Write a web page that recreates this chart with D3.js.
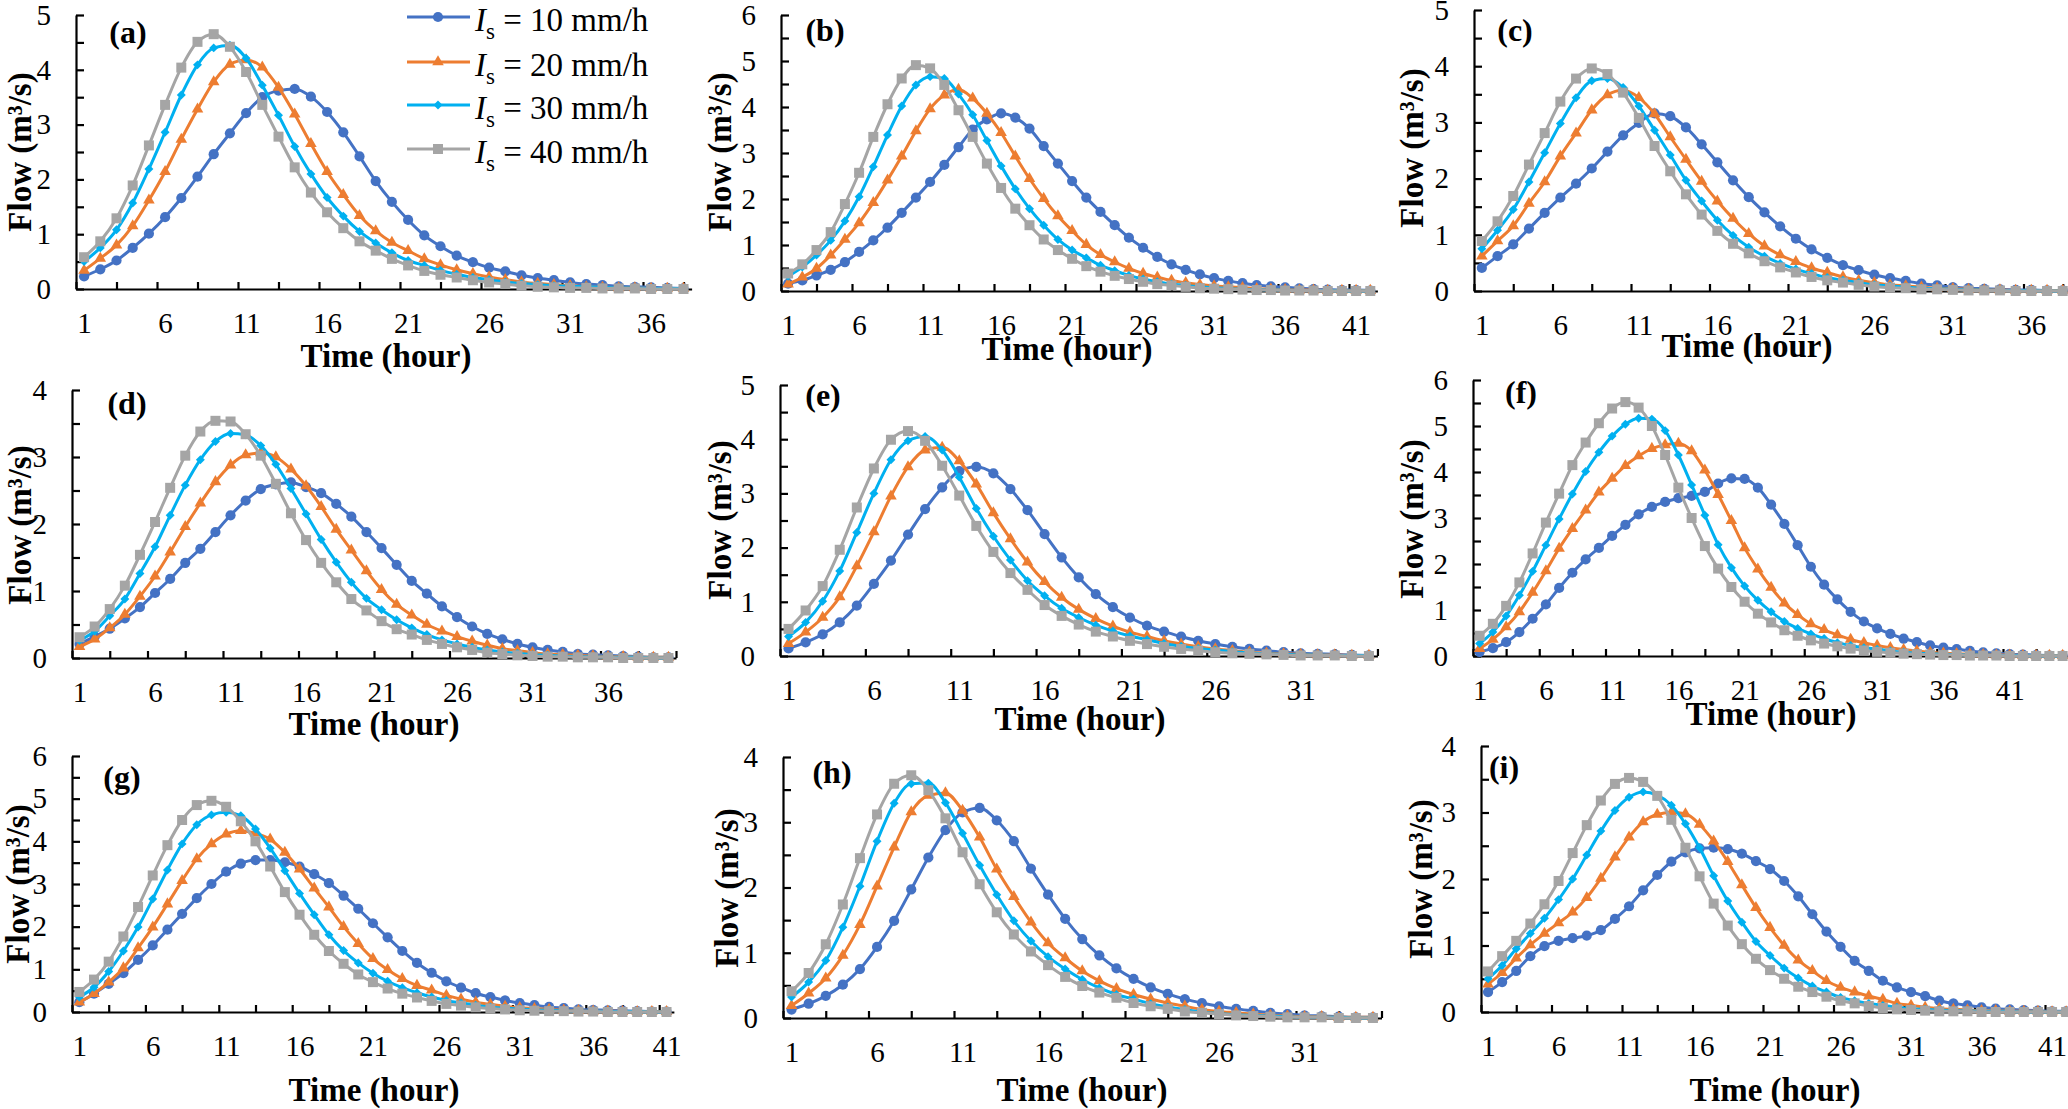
<!DOCTYPE html>
<html lang="en">
<head>
<meta charset="utf-8">
<title>Flow hydrographs</title>
<script src="https://cdn.jsdelivr.net/npm/d3@7"></script>
<style>
  body { margin: 0; background: #fff; }
  #chart text { font-family: "Liberation Serif", "Times New Roman", serif; fill: #000; }
</style>
</head>
<body>
<svg id="chart" width="2068" height="1109"></svg>
<script>
"use strict"

// flow (m3/s) per hour, one array per rainfall intensity
var a_10 = [0.23,0.36,0.52,0.75,1.01,1.31,1.66,2.05,2.46,2.84,3.21,3.50,3.62,3.65,3.51,3.23,2.86,2.42,1.97,1.59,1.26,0.98,0.78,0.61,0.49,0.39,0.32,0.25,0.20,0.16,0.12,0.09,0.07,0.05,0.04,0.03,0.02,0.01];
var a_20 = [0.34,0.56,0.80,1.15,1.62,2.14,2.73,3.28,3.78,4.10,4.18,4.05,3.68,3.19,2.65,2.14,1.72,1.34,1.06,0.85,0.70,0.55,0.44,0.35,0.28,0.22,0.17,0.13,0.10,0.08,0.06,0.04,0.03,0.02,0.02,0.01,0.01,0.01];
var a_30 = [0.50,0.75,1.08,1.57,2.19,2.86,3.54,4.09,4.40,4.45,4.21,3.72,3.17,2.60,2.10,1.67,1.33,1.05,0.84,0.66,0.52,0.43,0.34,0.27,0.21,0.17,0.13,0.10,0.08,0.06,0.05,0.04,0.03,0.02,0.02,0.01,0.01,0.01];
var a_40 = [0.58,0.87,1.29,1.89,2.62,3.36,4.04,4.51,4.65,4.42,3.96,3.36,2.78,2.22,1.76,1.40,1.11,0.87,0.70,0.55,0.43,0.33,0.26,0.21,0.16,0.12,0.09,0.06,0.04,0.03,0.02,0.02,0.01,0.01,0.01,0,0,0];

var b_10 = [0.16,0.23,0.34,0.46,0.63,0.85,1.10,1.38,1.70,2.03,2.37,2.74,3.13,3.51,3.73,3.86,3.77,3.53,3.15,2.77,2.39,2.03,1.72,1.43,1.16,0.94,0.74,0.58,0.46,0.36,0.28,0.22,0.17,0.13,0.10,0.08,0.06,0.04,0.03,0.02,0.02,0.01];
var b_20 = [0.15,0.30,0.49,0.78,1.12,1.48,1.92,2.41,2.93,3.48,3.96,4.26,4.38,4.19,3.86,3.44,2.93,2.44,2.01,1.63,1.31,1.01,0.79,0.63,0.49,0.38,0.30,0.23,0.18,0.14,0.11,0.09,0.07,0.05,0.04,0.03,0.02,0.02,0.01,0.01,0.01,0.01];
var b_30 = [0.32,0.52,0.78,1.10,1.52,2.05,2.70,3.39,4.02,4.48,4.66,4.62,4.28,3.83,3.27,2.72,2.22,1.79,1.43,1.12,0.89,0.72,0.56,0.44,0.34,0.26,0.20,0.15,0.12,0.09,0.07,0.05,0.04,0.03,0.02,0.02,0.01,0.01,0.01,0,0,0];
var b_40 = [0.38,0.58,0.89,1.28,1.89,2.57,3.35,4.06,4.62,4.91,4.84,4.48,3.93,3.35,2.77,2.24,1.79,1.43,1.12,0.89,0.70,0.54,0.42,0.33,0.26,0.20,0.15,0.12,0.09,0.06,0.05,0.04,0.03,0.02,0.02,0.01,0.01,0.01,0,0,0,0];

var c_10 = [0.41,0.62,0.83,1.11,1.39,1.66,1.91,2.18,2.48,2.77,2.99,3.16,3.11,2.91,2.61,2.29,1.97,1.67,1.40,1.15,0.93,0.74,0.59,0.46,0.37,0.29,0.23,0.18,0.13,0.10,0.07,0.05,0.04,0.03,0.02,0.02,0.01,0.01];
var c_20 = [0.62,0.89,1.16,1.56,1.94,2.40,2.81,3.22,3.49,3.57,3.44,3.15,2.74,2.34,1.95,1.60,1.29,1.02,0.80,0.64,0.52,0.41,0.33,0.25,0.19,0.15,0.11,0.09,0.07,0.05,0.04,0.03,0.02,0.02,0.01,0.01,0.01,0.01];
var c_30 = [0.75,1.08,1.45,1.94,2.46,2.98,3.44,3.74,3.78,3.62,3.29,2.86,2.42,1.97,1.60,1.26,0.99,0.78,0.62,0.49,0.39,0.31,0.24,0.19,0.15,0.11,0.09,0.07,0.05,0.04,0.03,0.02,0.02,0.01,0.01,0.01,0,0];
var c_40 = [0.89,1.24,1.69,2.25,2.81,3.37,3.78,3.96,3.86,3.53,3.08,2.58,2.13,1.72,1.36,1.07,0.84,0.67,0.53,0.42,0.33,0.25,0.19,0.15,0.11,0.08,0.06,0.05,0.03,0.03,0.02,0.01,0.01,0.01,0,0,0,0];

var d_10 = [0.21,0.32,0.44,0.59,0.76,0.97,1.18,1.42,1.63,1.88,2.13,2.35,2.52,2.59,2.62,2.55,2.46,2.30,2.11,1.88,1.64,1.39,1.15,0.96,0.77,0.61,0.47,0.36,0.28,0.21,0.16,0.12,0.09,0.06,0.05,0.04,0.03,0.02,0.01,0.01];
var d_20 = [0.17,0.28,0.45,0.65,0.92,1.22,1.58,1.96,2.31,2.63,2.88,3.03,3.06,3.00,2.82,2.57,2.26,1.92,1.61,1.30,1.02,0.80,0.64,0.50,0.40,0.32,0.25,0.19,0.14,0.11,0.08,0.06,0.05,0.04,0.03,0.02,0.02,0.01,0.01,0.01];
var d_30 = [0.26,0.40,0.63,0.88,1.26,1.66,2.13,2.58,2.96,3.23,3.35,3.33,3.17,2.89,2.53,2.15,1.77,1.43,1.13,0.89,0.72,0.57,0.45,0.35,0.27,0.21,0.16,0.12,0.09,0.07,0.05,0.04,0.03,0.02,0.02,0.01,0.01,0.01,0,0];
var d_40 = [0.31,0.47,0.73,1.08,1.54,2.03,2.54,3.02,3.38,3.54,3.53,3.34,3.02,2.60,2.16,1.76,1.42,1.13,0.88,0.71,0.55,0.43,0.35,0.27,0.21,0.16,0.12,0.08,0.06,0.04,0.03,0.02,0.02,0.01,0.01,0.01,0,0,0,0];

var e_10 = [0.14,0.25,0.40,0.62,0.93,1.33,1.76,2.24,2.71,3.11,3.41,3.49,3.37,3.08,2.69,2.25,1.82,1.45,1.14,0.90,0.71,0.56,0.45,0.36,0.28,0.22,0.17,0.13,0.10,0.07,0.05,0.04,0.03,0.02,0.01];
var e_20 = [0.23,0.44,0.71,1.09,1.66,2.29,2.95,3.49,3.80,3.85,3.60,3.17,2.64,2.16,1.73,1.37,1.08,0.86,0.69,0.55,0.44,0.36,0.28,0.22,0.17,0.13,0.10,0.07,0.05,0.04,0.03,0.02,0.02,0.01,0.01];
var e_30 = [0.36,0.62,1.01,1.57,2.28,3.00,3.62,3.97,4.05,3.80,3.30,2.72,2.21,1.77,1.39,1.11,0.88,0.71,0.57,0.46,0.37,0.30,0.23,0.18,0.14,0.11,0.08,0.06,0.04,0.03,0.02,0.02,0.01,0.01,0.01];
var e_40 = [0.50,0.84,1.29,1.96,2.74,3.46,3.99,4.15,3.97,3.51,2.96,2.40,1.92,1.53,1.22,0.94,0.74,0.58,0.45,0.36,0.28,0.22,0.17,0.13,0.10,0.07,0.05,0.04,0.03,0.02,0.01,0.01,0.01,0,0];

var f_10 = [0.09,0.17,0.30,0.52,0.81,1.12,1.48,1.81,2.10,2.35,2.61,2.85,3.08,3.24,3.35,3.43,3.48,3.57,3.75,3.86,3.85,3.66,3.29,2.87,2.41,1.94,1.55,1.23,0.96,0.75,0.60,0.48,0.38,0.30,0.23,0.18,0.15,0.11,0.08,0.06,0.04,0.03,0.02,0.01,0.01];
var f_20 = [0.16,0.36,0.63,0.96,1.38,1.85,2.34,2.77,3.17,3.56,3.86,4.14,4.35,4.51,4.59,4.62,4.46,4.04,3.51,2.94,2.35,1.89,1.49,1.15,0.90,0.70,0.57,0.46,0.36,0.29,0.23,0.18,0.14,0.11,0.08,0.06,0.05,0.04,0.03,0.02,0.02,0.01,0.01,0.01,0.01];
var f_30 = [0.27,0.52,0.87,1.32,1.84,2.41,2.98,3.52,4.01,4.43,4.78,5.04,5.17,5.15,4.90,4.37,3.72,3.06,2.42,1.92,1.52,1.21,0.96,0.75,0.60,0.48,0.38,0.29,0.23,0.18,0.15,0.11,0.08,0.06,0.05,0.04,0.03,0.02,0.02,0.01,0.01,0.01,0,0,0];
var f_40 = [0.44,0.70,1.09,1.60,2.23,2.90,3.53,4.15,4.64,5.06,5.38,5.52,5.40,5.00,4.37,3.66,3.00,2.39,1.90,1.50,1.18,0.92,0.73,0.56,0.44,0.34,0.27,0.21,0.16,0.12,0.09,0.07,0.05,0.04,0.03,0.02,0.02,0.01,0.01,0.01,0,0,0,0,0];

var g_10 = [0.23,0.43,0.66,0.91,1.22,1.56,1.93,2.30,2.67,3.00,3.29,3.48,3.56,3.56,3.51,3.41,3.23,3.02,2.73,2.42,2.08,1.75,1.43,1.15,0.92,0.72,0.57,0.44,0.35,0.27,0.21,0.16,0.12,0.09,0.06,0.05,0.04,0.03,0.02,0.01,0.01];
var g_20 = [0.23,0.43,0.70,1.03,1.50,1.99,2.53,3.08,3.59,3.94,4.17,4.25,4.19,4.05,3.74,3.35,2.90,2.46,2.00,1.60,1.25,0.99,0.78,0.62,0.51,0.39,0.30,0.23,0.18,0.13,0.10,0.08,0.06,0.04,0.03,0.02,0.02,0.01,0.01,0.01,0.01];
var g_30 = [0.35,0.58,0.95,1.43,1.99,2.65,3.33,3.94,4.39,4.62,4.68,4.60,4.29,3.84,3.31,2.78,2.28,1.81,1.44,1.15,0.91,0.72,0.57,0.45,0.35,0.27,0.21,0.16,0.12,0.09,0.07,0.05,0.04,0.03,0.02,0.02,0.01,0.01,0.01,0,0];
var g_40 = [0.47,0.76,1.18,1.77,2.46,3.20,3.91,4.50,4.85,4.95,4.81,4.47,4.00,3.41,2.81,2.28,1.81,1.43,1.13,0.88,0.70,0.55,0.43,0.34,0.26,0.19,0.15,0.11,0.08,0.06,0.04,0.03,0.02,0.02,0.01,0.01,0,0,0,0,0];

var h_10 = [0.13,0.22,0.34,0.51,0.75,1.09,1.49,1.97,2.46,2.88,3.15,3.22,3.03,2.71,2.29,1.89,1.52,1.21,0.96,0.76,0.60,0.47,0.37,0.29,0.23,0.18,0.14,0.11,0.08,0.06,0.04,0.03,0.02,0.01,0.01];
var h_20 = [0.19,0.38,0.61,0.96,1.43,2.02,2.62,3.16,3.41,3.45,3.18,2.77,2.28,1.86,1.47,1.15,0.92,0.72,0.57,0.45,0.36,0.29,0.23,0.18,0.13,0.10,0.08,0.06,0.04,0.03,0.02,0.02,0.01,0.01,0.01];
var h_30 = [0.32,0.55,0.88,1.39,2.02,2.71,3.29,3.59,3.60,3.30,2.83,2.34,1.89,1.49,1.18,0.94,0.75,0.59,0.46,0.36,0.29,0.22,0.17,0.13,0.09,0.07,0.05,0.04,0.03,0.02,0.01,0.01,0.01,0,0];
var h_40 = [0.41,0.69,1.13,1.74,2.45,3.12,3.59,3.72,3.49,3.06,2.54,2.05,1.62,1.28,1.02,0.81,0.63,0.49,0.39,0.31,0.23,0.18,0.14,0.10,0.08,0.06,0.04,0.03,0.02,0.01,0.01,0.01,0,0,0];

var i_10 = [0.30,0.45,0.62,0.84,0.99,1.07,1.11,1.15,1.23,1.40,1.59,1.83,2.06,2.26,2.40,2.46,2.47,2.45,2.38,2.27,2.15,1.97,1.74,1.47,1.21,0.98,0.77,0.62,0.47,0.37,0.30,0.24,0.17,0.13,0.10,0.07,0.05,0.04,0.03,0.02,0.01,0.01];
var i_20 = [0.42,0.59,0.81,1.01,1.18,1.34,1.50,1.72,2.01,2.33,2.63,2.86,2.97,3.00,2.98,2.82,2.57,2.26,1.91,1.57,1.27,1.00,0.78,0.62,0.47,0.37,0.30,0.24,0.19,0.13,0.10,0.07,0.05,0.04,0.03,0.02,0.02,0.01,0.01,0.01,0,0];
var i_30 = [0.50,0.70,0.95,1.18,1.41,1.69,2.00,2.36,2.72,3.03,3.23,3.31,3.26,3.11,2.83,2.47,2.05,1.67,1.35,1.06,0.85,0.66,0.51,0.39,0.30,0.22,0.17,0.13,0.10,0.07,0.05,0.04,0.03,0.02,0.02,0.01,0.01,0.01,0,0,0,0];
var i_40 = [0.61,0.84,1.07,1.33,1.62,1.97,2.39,2.81,3.18,3.43,3.52,3.46,3.25,2.89,2.47,2.04,1.63,1.30,1.02,0.80,0.63,0.50,0.38,0.30,0.23,0.17,0.13,0.09,0.06,0.04,0.03,0.02,0.01,0.01,0.01,0,0,0,0,0,0,0];

var intensities = [10, 20, 30, 40];            // mm/h
var panelTags   = ['(a)','(b)','(c)','(d)','(e)','(f)','(g)','(h)','(i)'];
var yMaxes      = [5, 6, 5, 4, 5, 6, 6, 4, 4];
var hourLabels  = [1, 6, 11, 16, 21, 26, 31, 36, 41];

var panelSeries = [
  [a_10, a_20, a_30, a_40], [b_10, b_20, b_30, b_40], [c_10, c_20, c_30, c_40],
  [d_10, d_20, d_30, d_40], [e_10, e_20, e_30, e_40], [f_10, f_20, f_30, f_40],
  [g_10, g_20, g_30, g_40], [h_10, h_20, h_30, h_40], [i_10, i_20, i_30, i_40]
];

// where each little chart sits in the picture (pixels)
// left = y axis, step = px per hour, bottom = zero line, top = y max
var boxes = [
  {left:76,   step:16.2,  bottom:289,  top:15,  flowX:19,   flowY:152, tagX:128,  tagY:32,  timeX:386,  timeY:355},
  {left:781,  step:14.2,  bottom:291,  top:15,  flowX:719,  flowY:152, tagX:825,  tagY:30,  timeX:1067, timeY:348},
  {left:1474, step:15.7,  bottom:291,  top:10,  flowX:1411, flowY:148, tagX:1515, tagY:30,  timeX:1747, timeY:345},
  {left:72,   step:15.1,  bottom:658,  top:390, flowX:19,   flowY:525, tagX:127,  tagY:403, timeX:374,  timeY:723},
  {left:780,  step:17.07, bottom:656,  top:385, flowX:719,  flowY:520, tagX:823,  tagY:395, timeX:1080, timeY:718},
  {left:1473, step:13.25, bottom:656,  top:380, flowX:1411, flowY:519, tagX:1521, tagY:392, timeX:1771, timeY:713},
  {left:72,   step:14.68, bottom:1012, top:756, flowX:17,   flowY:884, tagX:122,  tagY:777, timeX:374,  timeY:1089},
  {left:783,  step:17.1,  bottom:1018, top:757, flowX:726,  flowY:888, tagX:832,  tagY:772, timeX:1082, timeY:1089},
  {left:1481, step:14.1,  bottom:1012, top:746, flowX:1420, flowY:879, tagX:1504, tagY:767, timeX:1775, timeY:1089}
];

var colors  = ['#4472C4', '#ED7D31', '#00B0F0', '#A5A5A5'];
var symbols = [d3.symbolCircle, d3.symbolTriangle, d3.symbolSquare, d3.symbolSquare];
var sizes   = [82, 58, 40, 100];
var turns   = [0, 0, 45, 0];

var svg = d3.select('#chart');
svg.append('rect').attr('width', 2068).attr('height', 1109).attr('fill', '#fff');

function marker(k) {
  return d3.symbol().type(symbols[k]).size(sizes[k])();
}

boxes.forEach(function(b, p) {
  var n = panelSeries[p][0].length;
  var x = d3.scaleLinear().domain([0.5, n + 0.5]).range([b.left, b.left + n * b.step]);
  var y = d3.scaleLinear().domain([0, yMaxes[p]]).range([b.bottom, b.top]);
  var g = svg.append('g');

  // y axis, ticks every 0.5 pointing inwards, labels on integers
  g.append('g')
      .attr('transform', 'translate(' + b.left + ',0)')
      .call(d3.axisLeft(y)
        .tickValues(d3.range(0, yMaxes[p] + 0.01, 0.5))
        .tickSize(-8).tickSizeOuter(0).tickPadding(25)
        .tickFormat(function(d) { return d % 1 === 0 ? d : ''; }))
      .call(function(a) {
        a.selectAll('text').style('font-size', '29px');
        a.selectAll('line, path').attr('stroke', '#000').attr('stroke-width', 2.2);
      });

  // x axis: marks every 2.5 h, labels every 5 h
  g.append('g')
      .attr('transform', 'translate(0,' + b.bottom + ')')
      .call(d3.axisBottom(x)
        .tickValues(d3.range(0.5, n + 0.6, 2.5))
        .tickSize(-7).tickSizeOuter(0).tickFormat(''))
      .call(function(a) {
        a.selectAll('line, path').attr('stroke', '#000').attr('stroke-width', 2.2);
      });
  g.append('g')
      .attr('transform', 'translate(0,' + b.bottom + ')')
      .call(d3.axisBottom(x)
        .tickValues(hourLabels.filter(function(h) { return h <= n; }))
        .tickSize(0).tickPadding(23))
      .call(function(a) {
        a.select('.domain').remove();
        a.selectAll('text').style('font-size', '29px');
      });

  // curves, grey drawn last as in the original
  var line = d3.line()
      .x(function(d, i) { return x(i + 1); })
      .y(function(d) { return y(d); })
      .curve(d3.curveMonotoneX);

  panelSeries[p].forEach(function(values, k) {
    g.append('path')
        .datum(values)
        .attr('d', line)
        .attr('fill', 'none')
        .attr('stroke', colors[k])
        .attr('stroke-width', 3);
    g.selectAll('.m' + k)
        .data(values)
        .enter()
        .append('path')
          .attr('class', 'm' + k)
          .attr('d', marker(k))
          .attr('transform', function(d, i) {
            return 'translate(' + x(i + 1) + ',' + y(d) + ') rotate(' + turns[k] + ')';
          })
          .attr('fill', colors[k]);
  });

  // titles
  g.append('text')
      .attr('x', b.timeX).attr('y', b.timeY)
      .attr('text-anchor', 'middle').attr('dy', '0.35em')
      .style('font-size', '33px').style('font-weight', 'bold')
      .text('Time (hour)');
  g.append('text')
      .attr('transform', 'translate(' + b.flowX + ',' + b.flowY + ') rotate(-90)')
      .attr('text-anchor', 'middle').attr('dy', '0.35em')
      .style('font-size', '33px').style('font-weight', 'bold')
      .text('Flow (m³/s)');
  g.append('text')
      .attr('x', b.tagX).attr('y', b.tagY)
      .attr('text-anchor', 'middle').attr('dy', '0.35em')
      .style('font-size', '32px').style('font-weight', 'bold')
      .text(panelTags[p]);
});

// legend, only in panel (a)
var legendRows = [17, 62, 105, 149];
var leg = svg.append('g');
intensities.forEach(function(v, k) {
  var ly = legendRows[k];
  leg.append('line')
      .attr('x1', 407).attr('x2', 470).attr('y1', ly).attr('y2', ly)
      .attr('stroke', colors[k]).attr('stroke-width', 3);
  leg.append('path')
      .attr('d', marker(k))
      .attr('transform', 'translate(438,' + ly + ') rotate(' + turns[k] + ')')
      .attr('fill', colors[k]);
  var t = leg.append('text')
      .attr('x', 475).attr('y', ly + 14)
      .style('font-size', '33px');
  t.append('tspan').style('font-style', 'italic').text('I');
  t.append('tspan').attr('dy', 8).style('font-size', '23px').text('s');
  t.append('tspan').attr('dy', -8).text(' = ' + v + ' mm/h');
});
</script>
</body>
</html>
